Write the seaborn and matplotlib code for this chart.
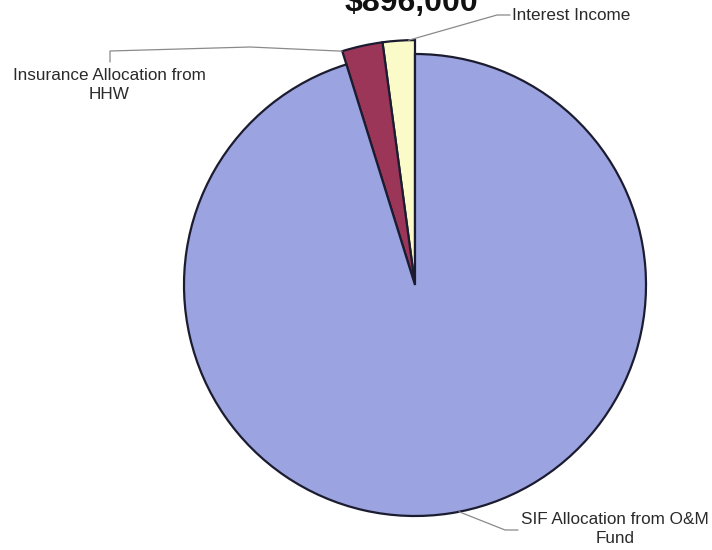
import numpy as np
import matplotlib
matplotlib.use("Agg")
import matplotlib.pyplot as plt
import seaborn as sns

# Funding sources (dollars)
categories = ["Interest Income", "Insurance Allocation from\nHHW", "SIF Allocation from O&M\nFund"]
amounts = [19000, 24000, 853000]
colors = ["#fbfbc9", "#9c3658", "#9ba4e0"]
title = "$896,000"

sns.set_theme(style="white")
plt.rcParams["font.family"] = ["Liberation Sans", "DejaVu Sans"]

W, H = 712, 550
fig = plt.figure(figsize=(W / 100, H / 100), dpi=100)
ax = fig.add_axes([0, 0, 1, 1])

cx, cy, R = 415, 265, 231
wedges, _ = ax.pie(amounts, colors=colors, startangle=90, counterclock=True,
                   center=(cx, cy), radius=R, explode=[0.008, 0.008, 0],
                   wedgeprops=dict(edgecolor="#1c1c30", linewidth=1.6))
# the two small slices stand slightly proud of the main disc
for w in wedges[:2]:
    w.set_radius(R * 1.06)

ax.set_xlim(0, W)
ax.set_ylim(0, H)
ax.set_aspect("equal")
ax.axis("off")

def polar(theta_deg, r, c=(cx, cy)):
    t = np.deg2rad(theta_deg)
    return c[0] + r * np.cos(t), c[1] + r * np.sin(t)

lc = "#8a8a8a"
fs = 12.3
tc = "#2a2a2a"
# Interest Income leader
w0 = wedges[0]
x0, y0 = polar(w0.theta1 + 1.5, w0.r, w0.center)
ax.plot([x0, 497, 510], [y0, H - 15, H - 15], color=lc, lw=0.9)
ax.text(512, H - 16, categories[0], ha="left", va="center", fontsize=fs, color=tc)

# Insurance leader
w1 = wedges[1]
x1, y1 = polar(w1.theta2, w1.r, w1.center)
ax.plot([x1, 250, 110, 110], [y1, H - 47, H - 51, H - 62], color=lc, lw=0.9)
ax.text(109, H - 85, categories[1], ha="center", va="center", fontsize=fs,
        color=tc, linespacing=1.4)

# SIF leader
x2, y2 = polar(-79, R)
ax.plot([x2, 505, 518], [y2, H - 530, H - 530], color=lc, lw=0.9)
ax.text(615, H - 529, categories[2], ha="center", va="center", fontsize=fs,
        color=tc, linespacing=1.3)

fig.text(411 / W, 1 - 11 / H, title, ha="center", va="baseline",
         fontsize=23, fontweight="bold", color="#111111")

fig.savefig("out.png", dpi=100, facecolor="white")
